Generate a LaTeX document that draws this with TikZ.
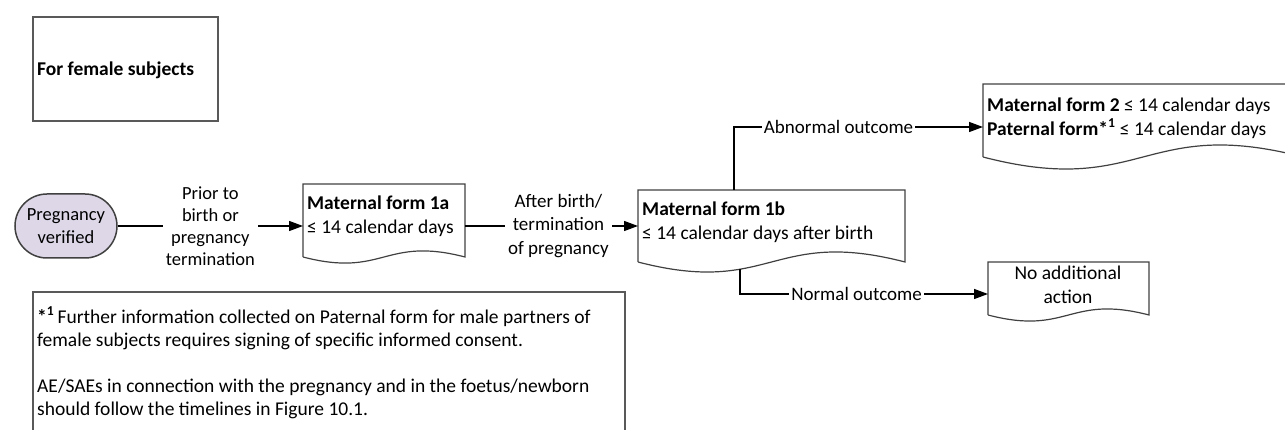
\documentclass[tikz,border=0pt]{standalone}
\usepackage{fontspec}
\setmainfont{Carlito}
\usetikzlibrary{arrows.meta,shapes.misc,calc}

\definecolor{lavender}{RGB}{221,215,232}
\definecolor{edgegray}{RGB}{64,64,64}
\definecolor{boxgray}{RGB}{89,89,89}

% outline of a document shape round an empty node
\newcommand{\docshape}[1]{%
  \draw[docline] let \p1=(#1.south west), \p2=(#1.south east), \n1={0.13*(\x2-\x1)} in
    (\p1) -- (#1.north west) -- (#1.north east) -- (\p2)
    .. controls ($(#1.south)+(0pt,\n1)$) and ($(#1.south)+(0pt,-\n1)$) .. (\p1);}

\begin{document}
\begin{tikzpicture}
  [x=1pt,y=-1pt,
   every node/.style={font=\fontsize{19.5}{23.5}\selectfont},
   flow/.style={line width=1.3pt,-{Triangle[length=14pt,width=10pt]}},
   docline/.style={line width=1.2pt,draw=edgegray},
   docnode/.style={anchor=north west,inner sep=0pt,outer sep=0pt},
   lbl/.style={fill=white,align=center,inner sep=3pt,font=\fontsize{18.5}{22}\selectfont}]
  \useasboundingbox (0,0) rectangle (1285,430);
  \clip (0,0) rectangle (1285,430);

  \draw[line width=1.5pt,draw=boxgray] (33,17) rectangle (218,121);
  \node[anchor=west,inner sep=4pt] (female) at (33,70) {\textbf{For female subjects}};

  \node[rounded rectangle,draw=edgegray,line width=1.5pt,fill=lavender,font=\fontsize{18.5}{22.5}\selectfont,
        minimum width=106,minimum height=64,align=center,inner sep=2pt] (preg) at (66,226) {Pregnancy\\verified};

  % maternal form 1a
  \node[docnode,minimum width=162,minimum height=73] (m1a) at (303,184) {};
  \docshape{m1a}
  \node[anchor=west,align=left,inner sep=4pt] (m1a-txt) at (303,216) {\textbf{Maternal form 1a}\\≤ 14 calendar days};

  % maternal form 1b
  \node[docnode,minimum width=267,minimum height=72] (m1b) at (638,190) {};
  \docshape{m1b}
  \node[anchor=west,align=left,inner sep=4pt] (m1b-txt) at (638,222) {\textbf{Maternal form 1b}\\≤ 14 calendar days after birth};

  % maternal form 2 / paternal form
  \node[docnode,minimum width=320,minimum height=73] (m2) at (983,84) {};
  \docshape{m2}
  \node[anchor=west,align=left,inner sep=4pt] (m2-txt) at (983,118)
    {\textbf{Maternal form 2} ≤ 14 calendar days\\\textbf{Paternal form*\textsuperscript{1}} ≤ 14 calendar days};

  % no additional action
  \node[docnode,minimum width=161,minimum height=53] (noact) at (988,262) {};
  \docshape{noact}
  \node[align=center] (noact-txt) at (1068,285) {No additional\\action};

  % footnote box
  \draw[line width=1.5pt,draw=boxgray] (33,292) rectangle (625,445);
  \node[anchor=west,align=left,inner sep=4pt] (note) at (33,363)
    {\textbf{*\textsuperscript{1}}\,Further information collected on Paternal form for male partners of\\
     female subjects requires signing of specific informed consent.\\[22pt]
     AE/SAEs in connection with the pregnancy and in the foetus/newborn\\
     should follow the timelines in Figure 10.1.};

  \draw[flow] (preg.east) -- node[lbl]{Prior to\\birth or\\pregnancy\\termination} (preg.east -| m1a.west);
  \draw[flow] (preg.east -| m1a.east) -- node[lbl,pos=0.54,font=\fontsize{19}{23.5}\selectfont]{After birth/\\termination\\of pregnancy} (preg.east -| m1b.west);

  \coordinate (abn) at (734,190);
  \coordinate (abnturn) at (734,127);
  \draw[flow] (abn) -- (abnturn) -- node[lbl,pos=0.42,inner sep=2pt,font=\fontsize{19}{23}\selectfont]{Abnormal outcome} (m2.west |- abnturn);

  \coordinate (nrm) at (740,269);
  \coordinate (nrmturn) at (740,294);
  \draw[flow] (nrm) -- (nrmturn) -- node[lbl,pos=0.47,inner sep=2pt,font=\fontsize{19}{23}\selectfont]{Normal outcome} (noact.west |- nrmturn);
\end{tikzpicture}
\end{document}
